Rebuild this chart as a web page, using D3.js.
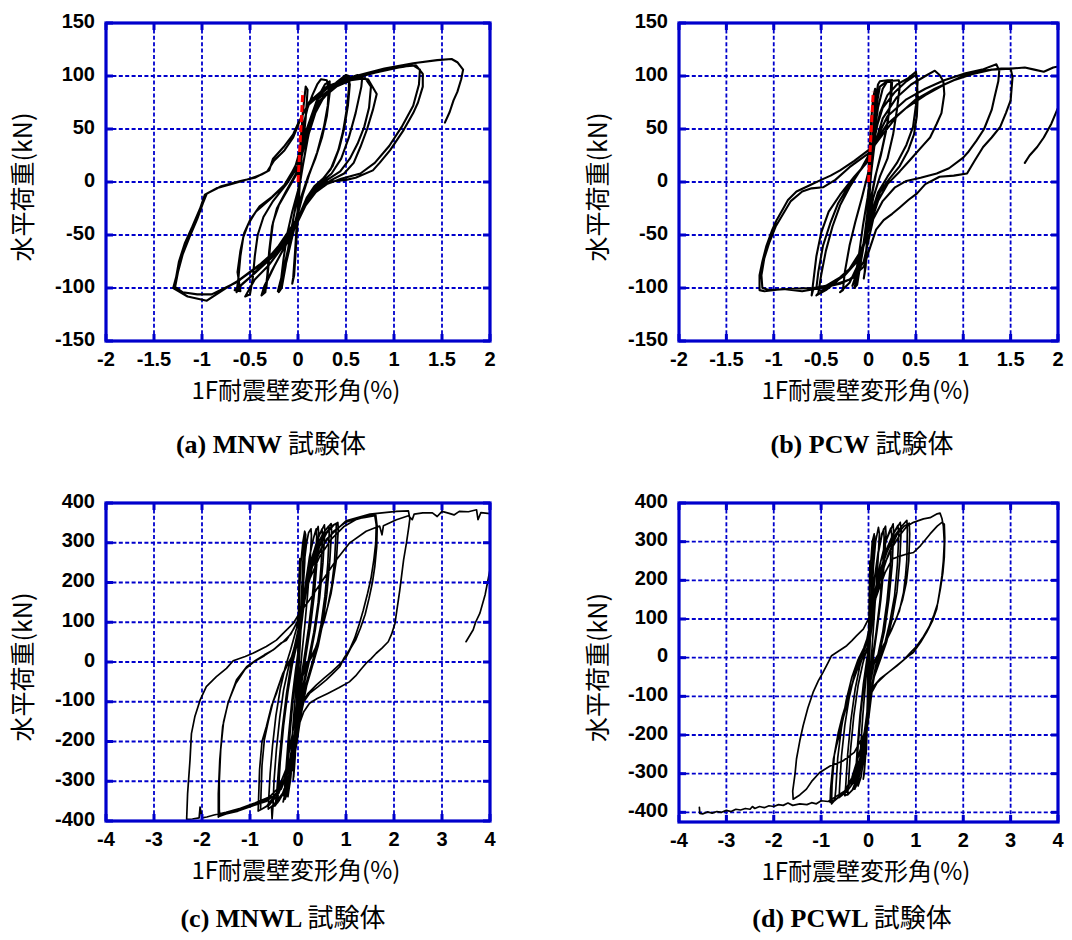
<!DOCTYPE html>
<html><head><meta charset="utf-8">
<script src="https://cdn.jsdelivr.net/npm/d3@7"></script>
<style>body{margin:0;background:#fff}</style>
</head><body>
<svg id="chart" width="1072" height="940"></svg>
<script>
// ---------- tick labels ----------
const xTicksAB = [-2,-1.5,-1,-0.5,0,0.5,1,1.5,2];
const yTicksAB = [-150,-100,-50,0,50,100,150];
const xTicksCD = [-4,-3,-2,-1,0,1,2,3,4];
const yTicksCD = [-400,-300,-200,-100,0,100,200,300,400];
const xTitle = "1F耐震壁変形角(%)";
const yTitle = "水平荷重(kN)";
const captionNames = ["(a) MNW","(b) PCW","(c) MNWL","(d) PCWL"];
const captionSuffix = "試験体";

// ---------- series: [drift angle (%), load (kN)] ----------
const mnwElastic = [[0,0],[0.05,85]];
const pcwElastic = [[0,0],[0.05,85]];

const mnwCurve = [
 [0,0],[0.02,30],[0.05,65],[0.08,90],[0.1,87],[0.08,60],[0.04,25],[0.01,-5],[-0.01,-35],[-0.03,-65],[-0.05,-90],[-0.06,-96],[-0.04,-88],[-0.02,-60],[0,-30],[0.02,0],[0.04,30],[0.06,55],
 [0.1,70],[0.15,82],[0.2,92],[0.24,97],[0.3,96],[0.32,88],[0.31,72],[0.27,52],[0.2,28],[0.12,8],[0.05,-12],[0,-30],[-0.06,-52],[-0.12,-75],[-0.17,-92],[-0.2,-104],[-0.17,-100],[-0.13,-80],[-0.09,-55],[-0.05,-35],[0,-12],[0.05,15],[0.1,40],
 [0.15,62],[0.22,82],[0.28,92],[0.33,95],[0.33,84],[0.3,62],[0.25,42],[0.18,22],[0.1,4],[0.03,-15],[-0.03,-38],[-0.1,-62],[-0.15,-82],[-0.19,-96],[-0.21,-103],[-0.18,-95],[-0.15,-72],[-0.11,-48],[-0.06,-28],[0,-8],[0.06,20],[0.1,42],
 [0.18,65],[0.28,82],[0.4,94],[0.5,101],[0.53,100],[0.53,88],[0.51,70],[0.47,48],[0.42,30],[0.34,12],[0.25,2],[0.16,-6],[0.08,-18],[0,-35],[-0.08,-52],[-0.18,-68],[-0.28,-85],[-0.35,-98],[-0.38,-107],[-0.34,-104],[-0.32,-88],[-0.3,-65],[-0.27,-42],[-0.22,-25],[-0.12,-8],[-0.02,8],[0.05,30],[0.12,55],
 [0.2,70],[0.3,84],[0.42,95],[0.52,100],[0.54,92],[0.52,72],[0.48,50],[0.43,32],[0.36,15],[0.27,4],[0.17,-4],[0.09,-15],[0.02,-30],[-0.06,-48],[-0.15,-63],[-0.25,-80],[-0.33,-95],[-0.36,-105],[-0.33,-100],[-0.31,-82],[-0.29,-60],[-0.26,-38],[-0.2,-22],[-0.1,-6],[0,10],[0.06,32],[0.13,55],
 [0.2,72],[0.35,88],[0.5,97],[0.62,101],[0.67,100],[0.66,90],[0.6,65],[0.53,42],[0.45,22],[0.35,8],[0.22,-2],[0.12,-14],[0.03,-30],[-0.05,-45],[-0.15,-60],[-0.3,-78],[-0.45,-92],[-0.55,-108],[-0.5,-106],[-0.47,-90],[-0.45,-70],[-0.42,-50],[-0.36,-33],[-0.26,-18],[-0.12,-2],[0,15],[0.08,40],
 [0.2,75],[0.4,90],[0.6,98],[0.73,97],[0.82,83],[0.78,68],[0.72,50],[0.65,33],[0.58,18],[0.48,8],[0.35,2],[0.2,-8],[0.08,-22],[-0.05,-40],[-0.2,-60],[-0.35,-76],[-0.5,-90],[-0.6,-98],[-0.66,-102],[-0.6,-103],[-0.63,-85],[-0.6,-65],[-0.56,-48],[-0.5,-36],[-0.4,-23],[-0.27,-14],[-0.12,-1],[0,20],[0.08,45],
 [0.2,75],[0.4,90],[0.55,96],[0.7,98],[0.76,90],[0.74,70],[0.69,52],[0.62,36],[0.54,22],[0.44,10],[0.32,3],[0.2,-5],[0.1,-18],[0,-35],[-0.12,-55],[-0.28,-72],[-0.45,-86],[-0.58,-96],[-0.64,-104],[-0.62,-90],[-0.6,-70],[-0.57,-52],[-0.52,-40],[-0.44,-28],[-0.3,-17],[-0.15,-4],[-0.03,14],[0.06,42],
 [0.2,78],[0.4,92],[0.6,100],[0.9,107],[1.1,109],[1.23,110],[1.3,102],[1.3,90],[1.25,75],[1.2,65],[1.1,49],[0.96,30],[0.85,18],[0.78,11],[0.6,4],[0.5,2],[0.3,0],[0.18,-8],[0.08,-22],[0,-37],[-0.1,-52],[-0.25,-68],[-0.45,-82],[-0.6,-92],[-0.75,-100],[-0.95,-112],[-1.15,-108],[-1.3,-100],[-1.27,-90],[-1.24,-75],[-1.18,-58],[-1.1,-42],[-1.02,-25],[-0.97,-12],[-0.85,-6],[-0.7,-2],[-0.5,3],[-0.38,7],[-0.3,11],[-0.26,22],[-0.15,33],[-0.05,45],[0,55],
 [0.1,72],[0.3,88],[0.55,97],[0.8,103],[1.05,108],[1.2,110],[1.27,106],[1.26,92],[1.2,72],[1.08,52],[0.95,34],[0.8,18],[0.65,8],[0.45,3],[0.3,-2],[0.15,-12],[0.05,-26],[-0.05,-44],[-0.2,-62],[-0.4,-78],[-0.65,-95],[-0.9,-106],[-1.05,-106],[-1.2,-104],[-1.28,-99],[-1.25,-85],[-1.2,-68],[-1.13,-52],[-1.05,-35],[-0.99,-20],[-0.95,-11],[-0.8,-4],[-0.6,1],[-0.45,4],[-0.32,10],[-0.25,20],[-0.14,30],[-0.05,42],[0.02,58],
 [0.12,76],[0.3,90],[0.6,100],[0.9,107],[1.2,112],[1.45,115],[1.6,116],[1.66,113],[1.72,106],[1.7,97],[1.66,85],[1.62,77],[1.58,66],[1.53,56]
];

const pcwCurve = [
 [0,0],[0.01,30],[0.03,60],[0.05,80],[0.07,88],[0.06,60],[0.04,30],[0.02,0],[0,-30],[-0.02,-60],[-0.04,-85],[-0.05,-91],[-0.03,-80],[-0.01,-50],[0.01,-15],[0.03,20],[0.05,55],
 [0.08,80],[0.1,92],[0.12,95],[0.2,96],[0.25,96],[0.24,80],[0.2,55],[0.14,30],[0.08,8],[0.03,-15],[-0.02,-40],[-0.06,-65],[-0.1,-85],[-0.15,-100],[-0.12,-97],[-0.08,-75],[-0.04,-50],[0,-20],[0.03,10],[0.07,40],
 [0.09,75],[0.12,90],[0.18,94],[0.24,95],[0.23,75],[0.19,50],[0.13,25],[0.07,5],[0.02,-18],[-0.03,-45],[-0.07,-68],[-0.12,-88],[-0.17,-98],[-0.14,-90],[-0.1,-68],[-0.06,-42],[-0.01,-15],[0.03,15],[0.06,45],
 [0.1,70],[0.15,88],[0.2,95],[0.32,96],[0.33,90],[0.3,68],[0.26,45],[0.2,22],[0.12,5],[0.05,-15],[0,-40],[-0.05,-60],[-0.12,-80],[-0.2,-95],[-0.3,-104],[-0.27,-102],[-0.25,-85],[-0.2,-60],[-0.14,-38],[-0.07,-15],[0,10],[0.05,35],
 [0.12,65],[0.2,82],[0.3,92],[0.42,98],[0.5,104],[0.51,98],[0.52,80],[0.51,62],[0.48,45],[0.42,30],[0.33,15],[0.22,3],[0.12,-10],[0.05,-28],[0,-45],[-0.08,-65],[-0.2,-82],[-0.35,-95],[-0.45,-102],[-0.55,-107],[-0.53,-105],[-0.5,-88],[-0.45,-65],[-0.38,-42],[-0.3,-22],[-0.2,-5],[-0.08,12],[0,25],[0.08,50],
 [0.15,70],[0.28,85],[0.4,95],[0.5,101],[0.52,96],[0.5,72],[0.47,52],[0.4,35],[0.3,18],[0.2,5],[0.1,-10],[0.03,-30],[-0.03,-55],[-0.12,-75],[-0.25,-88],[-0.4,-97],[-0.5,-103],[-0.55,-100],[-0.53,-85],[-0.48,-60],[-0.4,-38],[-0.32,-20],[-0.2,-2],[-0.05,15],[0.05,30],
 [0.15,60],[0.3,80],[0.45,92],[0.6,100],[0.7,105],[0.75,101],[0.79,95],[0.8,83],[0.77,65],[0.72,55],[0.65,42],[0.58,35],[0.45,22],[0.33,10],[0.2,-2],[0.1,-18],[0.02,-40],[-0.05,-60],[-0.15,-78],[-0.3,-90],[-0.45,-98],[-0.58,-100],[-0.6,-107],[-0.58,-92],[-0.55,-70],[-0.5,-48],[-0.42,-28],[-0.3,-12],[-0.15,5],[0,20],[0.08,40],
 [0.2,62],[0.4,78],[0.6,88],[0.8,96],[1.0,102],[1.2,106],[1.35,111],[1.38,105],[1.37,95],[1.33,80],[1.3,68],[1.22,50],[1.14,39],[1.05,28],[1.0,23],[0.85,13],[0.72,8],[0.55,4],[0.4,1],[0.28,-5],[0.15,-18],[0.05,-35],[0,-55],[-0.05,-75],[-0.15,-90],[-0.3,-96],[-0.5,-100],[-0.7,-103],[-0.9,-101],[-1.1,-103],[-1.15,-102],[-1.15,-88],[-1.12,-75],[-1.08,-61],[-1.02,-46],[-0.97,-36],[-0.9,-25],[-0.85,-17],[-0.76,-9],[-0.62,-3],[-0.5,2],[-0.4,6],[-0.3,11],[-0.15,20],[0,30],[0.09,40],
 [0.2,55],[0.4,70],[0.6,82],[0.8,92],[1.0,100],[1.2,105],[1.4,107],[1.5,107],[1.52,99],[1.51,88],[1.5,77],[1.45,65],[1.39,52],[1.3,42],[1.21,33],[1.12,20],[1.04,8],[0.9,6],[0.75,5],[0.6,-2],[0.51,-11],[0.42,-17],[0.33,-24],[0.25,-30],[0.16,-36],[0.08,-45],[0.02,-61],[-0.05,-80],[-0.2,-92],[-0.4,-98],[-0.6,-100],[-0.85,-101],[-1.05,-102],[-1.12,-100],[-1.13,-88],[-1.1,-72],[-1.05,-58],[-0.98,-42],[-0.9,-30],[-0.82,-18],[-0.7,-9],[-0.6,-6],[-0.48,-5],[-0.35,2],[-0.2,14],[0,27],[0.15,45],
 [0.3,62],[0.5,78],[0.7,88],[0.9,96],[1.1,102],[1.3,106],[1.5,107],[1.65,108],[1.75,106],[1.85,104],[1.95,108],[2.05,110],[2.12,105],[2.12,90],[2.06,78],[2.0,70],[1.93,55],[1.85,42],[1.78,33],[1.7,25],[1.65,18]
];

const mnwlCurve = [
 [0,0],[0.01,100],[0.02,200],[0.04,260],[0.02,150],[0,40],[-0.02,-80],[-0.04,-180],[-0.06,-240],[-0.04,-150],[-0.01,-40],[0.01,60],[0.03,170],[0.06,250],[0.1,300],[0.14,329],[0.16,320],[0.14,250],[0.1,170],[0.06,80],[0.02,-10],[-0.02,-100],[-0.05,-180],[-0.08,-250],[-0.1,-297],[-0.09,-285],[-0.06,-220],[-0.03,-140],[0,-60],[0.02,10],[0.05,90],[0.08,170],
 [0.1,250],[0.13,300],[0.16,320],[0.14,260],[0.1,180],[0.06,100],[0.03,20],[0,-70],[-0.03,-160],[-0.06,-240],[-0.09,-290],[-0.07,-250],[-0.04,-160],[-0.01,-70],[0.02,20],[0.05,110],[0.08,190],
 [0.12,240],[0.18,300],[0.22,325],[0.27,335],[0.28,318],[0.25,250],[0.2,170],[0.14,90],[0.08,20],[0.02,-60],[-0.04,-140],[-0.1,-220],[-0.15,-290],[-0.21,-339],[-0.2,-325],[-0.16,-260],[-0.11,-170],[-0.06,-90],[-0.01,-10],[0.04,60],[0.1,140],
 [0.17,210],[0.25,270],[0.33,315],[0.42,341],[0.43,325],[0.4,260],[0.34,170],[0.26,90],[0.17,20],[0.08,-50],[0.01,-120],[-0.06,-200],[-0.14,-270],[-0.22,-320],[-0.31,-352],[-0.29,-340],[-0.25,-270],[-0.2,-190],[-0.13,-100],[-0.05,-20],[0.03,50],[0.1,120],
 [0.16,200],[0.24,265],[0.32,310],[0.38,335],[0.39,315],[0.36,250],[0.3,165],[0.22,85],[0.14,20],[0.06,-45],[-0.01,-125],[-0.08,-210],[-0.15,-280],[-0.22,-330],[-0.27,-345],[-0.25,-320],[-0.21,-250],[-0.16,-170],[-0.1,-90],[-0.03,-15],[0.04,60],[0.11,130],
 [0.2,200],[0.3,265],[0.42,315],[0.55,345],[0.56,328],[0.52,250],[0.45,160],[0.36,80],[0.25,10],[0.14,-50],[0.05,-120],[-0.04,-200],[-0.15,-275],[-0.28,-325],[-0.42,-352],[-0.48,-362],[-0.45,-340],[-0.4,-260],[-0.33,-170],[-0.24,-80],[-0.15,-10],[-0.05,40],[0.05,110],
 [0.15,190],[0.27,255],[0.4,305],[0.5,335],[0.51,315],[0.48,240],[0.42,150],[0.33,75],[0.22,8],[0.11,-55],[0.02,-130],[-0.07,-210],[-0.18,-280],[-0.3,-330],[-0.4,-350],[-0.43,-355],[-0.41,-330],[-0.37,-250],[-0.3,-160],[-0.21,-75],[-0.12,-8],[-0.02,45],[0.07,115],
 [0.15,180],[0.28,250],[0.42,300],[0.56,330],[0.69,348],[0.7,330],[0.66,250],[0.6,170],[0.52,100],[0.42,40],[0.3,-10],[0.18,-60],[0.08,-120],[-0.02,-200],[-0.12,-270],[-0.28,-325],[-0.45,-355],[-0.55,-369],[-0.54,-395],[-0.52,-360],[-0.5,-300],[-0.45,-220],[-0.38,-140],[-0.3,-70],[-0.2,-15],[-0.08,35],[0.02,90],
 [0.14,175],[0.27,245],[0.4,295],[0.53,325],[0.64,342],[0.65,325],[0.62,245],[0.56,165],[0.48,95],[0.38,35],[0.27,-12],[0.15,-62],[0.05,-125],[-0.05,-205],[-0.16,-275],[-0.32,-330],[-0.5,-358],[-0.62,-370],[-0.61,-345],[-0.58,-280],[-0.53,-210],[-0.46,-135],[-0.37,-68],[-0.27,-15],[-0.15,32],[-0.03,85],
 [0.12,160],[0.25,230],[0.4,285],[0.55,320],[0.7,342],[0.83,351],[0.84,335],[0.8,257],[0.74,210],[0.69,173],[0.6,130],[0.55,106],[0.45,70],[0.38,39],[0.25,8],[0.17,-3],[0.07,-37],[0,-79],[-0.1,-170],[-0.25,-270],[-0.45,-330],[-0.65,-362],[-0.75,-370],[-0.83,-375],[-0.82,-340],[-0.8,-270],[-0.75,-200],[-0.66,-163],[-0.55,-110],[-0.45,-79],[-0.35,-40],[-0.24,-12],[-0.12,15],[0,50],[0.05,95],
 [0.14,165],[0.28,235],[0.45,290],[0.6,325],[0.75,345],[0.8,348],[0.79,320],[0.76,250],[0.7,190],[0.62,140],[0.52,95],[0.42,55],[0.32,20],[0.2,-5],[0.1,-35],[0.03,-85],[-0.06,-170],[-0.2,-265],[-0.4,-330],[-0.6,-360],[-0.78,-372],[-0.77,-330],[-0.75,-260],[-0.7,-195],[-0.62,-150],[-0.52,-100],[-0.42,-65],[-0.32,-30],[-0.2,-2],[-0.08,25],[0.02,70],
 [0.15,170],[0.3,240],[0.5,290],[0.75,330],[1.0,352],[1.2,360],[1.4,364],[1.6,368],[1.63,345],[1.62,300],[1.58,257],[1.52,210],[1.45,173],[1.36,130],[1.28,97],[1.18,60],[1.07,30],[0.95,8],[0.87,-12],[0.72,-30],[0.59,-45],[0.42,-62],[0.24,-79],[0.12,-100],[0.03,-150],[-0.05,-200],[-0.15,-260],[-0.35,-320],[-0.6,-345],[-0.9,-358],[-1.2,-370],[-1.45,-380],[-1.6,-385],[-1.66,-390],[-1.66,-331],[-1.63,-247],[-1.57,-163],[-1.46,-104],[-1.28,-45],[-1.07,-12],[-0.87,5],[-0.7,18],[-0.52,30],[-0.35,48],[-0.24,55],[-0.1,81],[0,106],
 [0.1,150],[0.25,210],[0.45,265],[0.7,310],[0.95,340],[1.2,358],[1.45,367],[1.62,370],[1.65,340],[1.64,290],[1.6,240],[1.55,200],[1.48,160],[1.4,120],[1.3,85],[1.2,55],[1.1,35],[1.0,12],[0.85,-8],[0.7,-25],[0.55,-40],[0.38,-58],[0.2,-80],[0.08,-110],[0,-160],[-0.08,-210],[-0.2,-270],[-0.4,-325],[-0.65,-350],[-0.95,-362],[-1.25,-375],[-1.5,-382],[-1.63,-388],[-1.64,-370],[-1.64,-300],[-1.61,-220],[-1.55,-150],[-1.45,-100],[-1.3,-55],[-1.1,-18],[-0.9,2],[-0.7,16],[-0.5,32],[-0.3,52],[-0.15,70],[-0.02,100],
 [0.1,160],[0.3,240],[0.6,310],[1.0,355],[1.5,372],[2.05,379],[2.3,380],[2.33,360],[2.31,341],[2.26,300],[2.2,257],[2.12,180],[2.02,97],[1.95,70],[1.88,51],[1.75,35],[1.63,22],[1.52,8],[1.42,-3],[1.3,-20],[1.2,-35],[1.07,-50],[0.85,-65],[0.62,-79],[0.4,-92],[0.24,-104],[0.12,-125],[0.03,-155],[-0.05,-210],[-0.15,-260],[-0.35,-310],[-0.6,-340],[-0.9,-355],[-1.2,-368],[-1.5,-378],[-1.75,-385],[-1.9,-390],[-2.0,-392],[-2.04,-365],[-2.06,-392],[-2.2,-395],[-2.32,-396],[-2.3,-331],[-2.25,-247],[-2.22,-180],[-2.15,-138],[-2.04,-96],[-1.91,-62],[-1.7,-37],[-1.49,-16],[-1.35,3],[-1.1,14],[-0.94,22],[-0.66,39],[-0.45,55],[-0.31,72],[-0.1,97],[0.03,123],
 [0.24,156],[0.52,207],[0.8,257],[1.07,299],[1.42,329],[1.7,342],[1.75,320],[1.78,343],[2.05,358],[2.3,368],[2.38,358],[2.42,372],[2.6,375],[2.8,375],[2.9,366],[3.0,379],[3.15,374],[3.25,370],[3.36,379],[3.55,378],[3.72,383],[3.75,358],[3.81,376],[4.0,373],[4.1,370],[4.15,340],[4.1,280],[4.0,232],[3.9,170],[3.79,123],[3.7,100],[3.65,81],[3.5,51]
];

const pcwlCurve = [
 [0,0],[0.01,100],[0.02,180],[0.03,250],[0.02,150],[0,50],[-0.02,-80],[-0.03,-180],[-0.05,-250],[-0.03,-150],[-0.01,-50],[0.01,60],[0.03,170],[0.05,250],[0.08,300],[0.12,320],[0.1,250],[0.07,160],[0.04,60],[0.01,-40],[-0.03,-140],[-0.06,-230],[-0.09,-290],[-0.11,-314],[-0.09,-300],[-0.06,-230],[-0.03,-140],[0,-50],[0.03,40],[0.06,140],
 [0.08,230],[0.1,290],[0.13,315],[0.11,250],[0.07,150],[0.03,50],[0,-60],[-0.03,-170],[-0.06,-250],[-0.09,-300],[-0.07,-260],[-0.04,-170],[-0.01,-70],[0.02,30],[0.05,130],
 [0.1,230],[0.15,300],[0.21,337],[0.23,320],[0.2,250],[0.15,160],[0.1,70],[0.05,-20],[0,-110],[-0.05,-190],[-0.1,-260],[-0.16,-310],[-0.22,-332],[-0.2,-310],[-0.17,-240],[-0.12,-150],[-0.06,-60],[0,20],[0.05,100],
 [0.12,200],[0.2,270],[0.28,320],[0.36,340],[0.37,320],[0.33,240],[0.26,150],[0.18,70],[0.1,0],[0.03,-80],[-0.04,-170],[-0.12,-250],[-0.2,-310],[-0.29,-340],[-0.28,-320],[-0.24,-240],[-0.18,-150],[-0.11,-70],[-0.03,0],[0.05,70],
 [0.12,190],[0.2,265],[0.28,315],[0.32,333],[0.33,310],[0.3,230],[0.24,145],[0.16,65],[0.08,-5],[0.01,-90],[-0.06,-180],[-0.14,-260],[-0.22,-318],[-0.27,-335],[-0.26,-310],[-0.22,-230],[-0.16,-140],[-0.09,-60],[-0.01,5],[0.06,80],
 [0.15,170],[0.25,245],[0.38,305],[0.52,346],[0.53,325],[0.5,240],[0.43,150],[0.34,70],[0.22,5],[0.1,-60],[0.02,-140],[-0.08,-230],[-0.2,-300],[-0.32,-340],[-0.42,-352],[-0.5,-357],[-0.48,-330],[-0.44,-250],[-0.37,-160],[-0.28,-80],[-0.18,-20],[-0.08,20],[0.02,80],
 [0.13,165],[0.24,240],[0.36,300],[0.47,335],[0.49,318],[0.46,235],[0.39,145],[0.3,65],[0.19,2],[0.08,-65],[0,-150],[-0.1,-240],[-0.22,-305],[-0.34,-342],[-0.44,-355],[-0.42,-320],[-0.38,-240],[-0.31,-150],[-0.22,-72],[-0.12,-15],[-0.02,30],[0.05,90],
 [0.12,150],[0.25,225],[0.4,285],[0.55,325],[0.67,350],[0.69,330],[0.66,250],[0.6,170],[0.5,100],[0.38,40],[0.25,-5],[0.12,-50],[0.03,-110],[-0.05,-190],[-0.15,-270],[-0.3,-320],[-0.45,-345],[-0.6,-360],[-0.71,-366],[-0.69,-340],[-0.65,-260],[-0.57,-180],[-0.47,-110],[-0.35,-50],[-0.22,-5],[-0.1,25],[0,60],
 [0.11,145],[0.24,220],[0.38,280],[0.52,320],[0.62,342],[0.64,320],[0.61,240],[0.55,160],[0.45,92],[0.34,35],[0.22,-8],[0.1,-55],[0.01,-120],[-0.08,-200],[-0.2,-280],[-0.36,-330],[-0.52,-352],[-0.62,-362],[-0.61,-335],[-0.57,-255],[-0.5,-175],[-0.41,-105],[-0.3,-45],[-0.18,-3],[-0.06,30],[0.03,70],
 [0.1,140],[0.22,210],[0.38,270],[0.55,315],[0.7,340],[0.81,355],[0.82,330],[0.81,255],[0.78,210],[0.74,169],[0.65,120],[0.52,83],[0.42,55],[0.31,31],[0.2,8],[0.1,-12],[0.03,-72],[-0.03,-150],[-0.12,-240],[-0.3,-310],[-0.5,-345],[-0.68,-365],[-0.81,-374],[-0.8,-340],[-0.74,-262],[-0.67,-225],[-0.6,-193],[-0.53,-155],[-0.46,-124],[-0.38,-85],[-0.29,-47],[-0.18,-12],[-0.08,8],[0,22],[0.05,60],
 [0.12,135],[0.25,205],[0.42,268],[0.6,318],[0.75,340],[0.86,348],[0.87,320],[0.85,250],[0.8,195],[0.72,150],[0.6,105],[0.48,70],[0.36,40],[0.24,12],[0.12,-15],[0.04,-65],[-0.04,-150],[-0.15,-250],[-0.35,-320],[-0.55,-352],[-0.72,-370],[-0.78,-378],[-0.77,-330],[-0.72,-250],[-0.64,-195],[-0.55,-150],[-0.45,-110],[-0.35,-70],[-0.25,-35],[-0.14,-5],[-0.04,15],[0.04,55],
 [0.1,130],[0.2,190],[0.35,245],[0.5,285],[0.65,315],[0.81,340],[0.95,350],[1.16,359],[1.3,362],[1.45,372],[1.51,374],[1.55,360],[1.58,340],[1.6,298],[1.58,250],[1.55,212],[1.5,170],[1.44,126],[1.35,95],[1.23,66],[1.1,40],[0.95,14],[0.8,0],[0.6,-21],[0.42,-38],[0.24,-55],[0.12,-72],[0.05,-95],[0,-140],[-0.1,-200],[-0.3,-245],[-0.55,-268],[-0.81,-280],[-1.03,-297],[-1.2,-320],[-1.31,-340],[-1.45,-355],[-1.59,-366],[-1.6,-345],[-1.55,-300],[-1.52,-262],[-1.45,-215],[-1.38,-176],[-1.28,-130],[-1.17,-90],[-1.06,-60],[-0.96,-38],[-0.85,-12],[-0.78,5],[-0.62,18],[-0.46,31],[-0.35,44],[-0.25,57],[-0.11,74],[0,100],[0.1,135],
 [0.2,170],[0.35,220],[0.5,255],[0.65,262],[0.81,268],[0.95,272],[1.1,290],[1.3,320],[1.45,340],[1.55,350],[1.6,345],[1.61,310],[1.6,260],[1.57,220],[1.52,180],[1.46,140],[1.38,110],[1.28,80],[1.16,55],[1.02,30],[0.9,15],[0.75,-5],[0.55,-25],[0.35,-45],[0.18,-65],[0.07,-90],[0,-141],[-0.07,-193],[-0.2,-250],[-0.35,-310],[-0.5,-345],[-0.7,-360],[-0.85,-372],[-1.0,-370],[-1.1,-378],[-1.2,-375],[-1.3,-380],[-1.45,-378],[-1.6,-382],[-1.7,-376],[-1.8,-382],[-1.9,-380],[-2.0,-385],[-2.1,-383],[-2.2,-388],[-2.3,-385],[-2.4,-390],[-2.45,-385],[-2.5,-392],[-2.6,-390],[-2.7,-394],[-2.8,-392],[-2.9,-398],[-3.0,-395],[-3.1,-400],[-3.2,-398],[-3.3,-402],[-3.4,-399],[-3.5,-404],[-3.56,-403],[-3.57,-387]
];

// ---------- layout ----------
const panels = [
 {curve: mnwCurve, elastic: mnwElastic, xd:[-2,2], yd:[-150,150], xt:xTicksAB, yt:yTicksAB, L:106, R:490, T:23, B:341, cap:0, capX:271, capY:453, titleX:296, ytX:32, sw:2.1},
 {curve: pcwCurve, elastic: pcwElastic, xd:[-2,2], yd:[-150,150], xt:xTicksAB, yt:yTicksAB, L:679, R:1058, T:23, B:341, cap:1, capX:862, capY:453, titleX:866, ytX:607, sw:2.1},
 {curve: mnwlCurve, elastic: null, xd:[-4,4], yd:[-400,400], xt:xTicksCD, yt:yTicksCD, L:106, R:490, T:503, B:821, cap:2, capX:283, capY:927, titleX:296, ytX:32, sw:1.7},
 {curve: pcwlCurve, elastic: null, xd:[-4,4], yd:[-425,400], xt:xTicksCD, yt:yTicksCD, L:679, R:1058, T:503, B:822, cap:3, capX:852, capY:927, titleX:866, ytX:607, sw:1.7}
];

const svg = d3.select("#chart");
const BLUE = "#0000cc";

panels.forEach((p, i) => {
  const x = d3.scaleLinear().domain(p.xd).range([p.L, p.R]);
  const y = d3.scaleLinear().domain(p.yd).range([p.B, p.T]);
  const g = svg.append("g");

  const cid = "clip" + i;
  svg.append("clipPath").attr("id", cid).append("rect")
    .attr("x", p.L).attr("y", p.T).attr("width", p.R - p.L).attr("height", p.B - p.T);

  // grid
  g.selectAll(".gx").data(p.xt.filter(v => x(v) > p.L + 1 && x(v) < p.R - 1)).enter().append("line")
    .attr("x1", d => x(d)).attr("x2", d => x(d)).attr("y1", p.T).attr("y2", p.B)
    .attr("stroke", BLUE).attr("stroke-width", 1.8).attr("stroke-dasharray", "4,2.4");
  g.selectAll(".gy").data(p.yt.filter(v => y(v) > p.T + 1 && y(v) < p.B - 1)).enter().append("line")
    .attr("y1", d => y(d)).attr("y2", d => y(d)).attr("x1", p.L).attr("x2", p.R)
    .attr("stroke", BLUE).attr("stroke-width", 1.8).attr("stroke-dasharray", "4,2.4");

  // curve
  const line = d3.line().x(d => x(d[0])).y(d => y(d[1]));
  g.append("path").datum(p.curve).attr("d", line).attr("clip-path", `url(#${cid})`)
    .attr("fill", "none").attr("stroke", "#000").attr("stroke-width", p.sw)
    .attr("stroke-linejoin", "round").attr("stroke-linecap", "round");
  if (p.elastic) {
    g.append("path").datum(p.elastic).attr("d", line)
      .attr("fill", "none").attr("stroke", "#ff0000").attr("stroke-width", 3)
      .attr("stroke-dasharray", "7,3");
  }

  // ticks (inward, all sides)
  const tl = 7;
  p.xt.forEach(v => {
    g.append("line").attr("x1", x(v)).attr("x2", x(v)).attr("y1", p.B).attr("y2", p.B - tl).attr("stroke", BLUE).attr("stroke-width", 3);
    g.append("line").attr("x1", x(v)).attr("x2", x(v)).attr("y1", p.T).attr("y2", p.T + tl).attr("stroke", BLUE).attr("stroke-width", 3);
  });
  p.yt.forEach(v => {
    g.append("line").attr("y1", y(v)).attr("y2", y(v)).attr("x1", p.L).attr("x2", p.L + tl).attr("stroke", BLUE).attr("stroke-width", 3);
    g.append("line").attr("y1", y(v)).attr("y2", y(v)).attr("x1", p.R).attr("x2", p.R - tl).attr("stroke", BLUE).attr("stroke-width", 3);
  });
  g.append("rect").attr("x", p.L).attr("y", p.T).attr("width", p.R - p.L).attr("height", p.B - p.T)
    .attr("fill", "none").attr("stroke", BLUE).attr("stroke-width", 3.2);

  // tick labels
  const styleLab = t => t.attr("font-family", "'Liberation Sans', Arial, sans-serif")
    .attr("font-weight", "bold").attr("font-size", "20px").attr("fill", "#000");
  p.xt.forEach(v => {
    styleLab(g.append("text").attr("x", x(v)).attr("y", p.B + 25).attr("text-anchor", "middle").text(String(v)));
  });
  p.yt.forEach(v => {
    styleLab(g.append("text").attr("x", p.L - 11).attr("y", y(v) + 4.5).attr("text-anchor", "end").text(String(v)));
  });

  // axis titles
  g.append("text").attr("x", p.titleX).attr("y", p.B + 58)
    .attr("text-anchor", "middle").attr("font-family", "'Noto Sans CJK JP', sans-serif")
    .attr("font-size", "24px").attr("fill", "#000").text(xTitle);
  const ycy = (p.T + p.B) / 2 + 5;
  g.append("text").attr("transform", `translate(${p.ytX},${ycy}) rotate(-90)`)
    .attr("text-anchor", "middle").attr("font-family", "'Noto Sans CJK JP', sans-serif")
    .attr("font-size", "25px").attr("fill", "#000").text(yTitle);

  // caption
  const c = g.append("text").attr("x", p.capX).attr("y", p.capY).attr("text-anchor", "middle").attr("fill", "#000");
  c.append("tspan").attr("font-family", "'Liberation Serif', 'Times New Roman', serif").attr("font-weight", "bold")
    .attr("font-size", "26px").text(captionNames[p.cap] + " ");
  c.append("tspan").attr("font-family", "'Noto Sans CJK JP', sans-serif").attr("font-size", "26px").text(captionSuffix);
});
</script>
</body></html>
